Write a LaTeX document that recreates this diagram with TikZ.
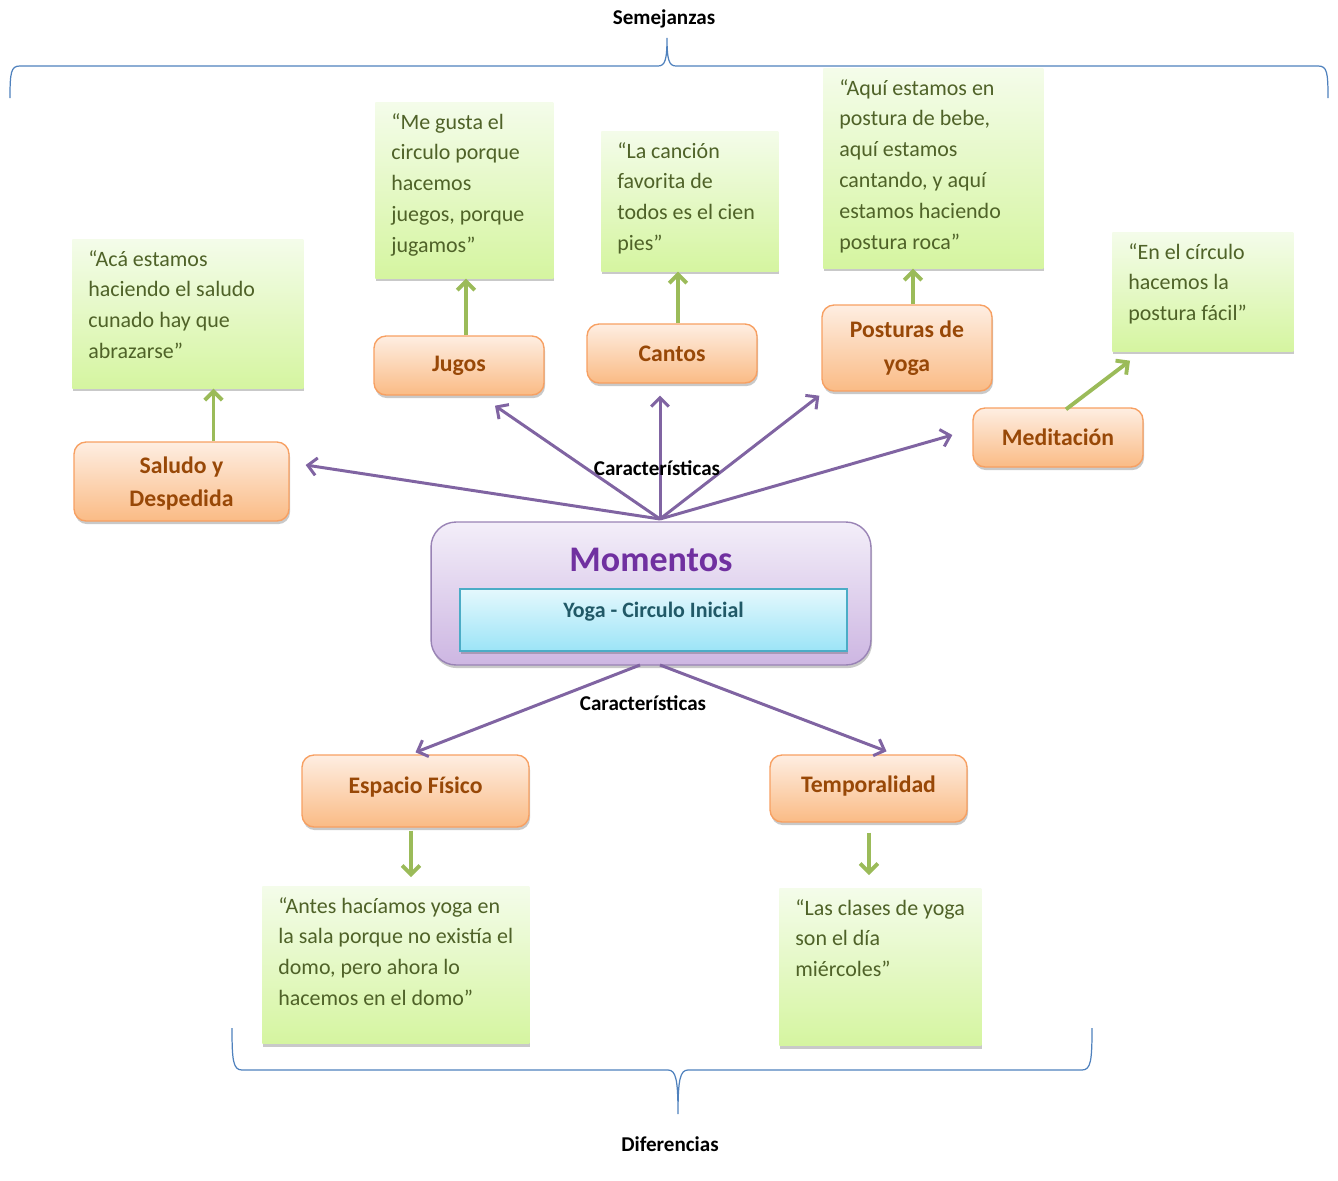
\documentclass[tikz,border=0pt]{standalone}
\usepackage{fontspec}
\setmainfont{Carlito}
\usetikzlibrary{arrows.meta}
\usetikzlibrary{shadows}
\usetikzlibrary{positioning}

\definecolor{citaarriba}{HTML}{F4FCEA}
\definecolor{citaabajo}{HTML}{D5F5A0}
\definecolor{citatexto}{HTML}{4F6228}
\definecolor{temaarriba}{HTML}{FEEEE2}
\definecolor{temaabajo}{HTML}{FABB85}
\definecolor{temaborde}{HTML}{F7A062}
\definecolor{tematexto}{HTML}{984807}
\definecolor{morado}{HTML}{8064A2}
\definecolor{moradotexto}{HTML}{7030A0}
\definecolor{lilaarriba}{HTML}{F3EEF9}
\definecolor{lilaabajo}{HTML}{CDB6E2}
\definecolor{cianarriba}{HTML}{E4F8FD}
\definecolor{cianabajo}{HTML}{9CE4F7}
\definecolor{cianborde}{HTML}{4BACC6}
\definecolor{ciantexto}{HTML}{215967}
\definecolor{verde}{HTML}{9BBB59}
\definecolor{azul}{HTML}{4F81BD}

\newcommand{\cita}[3]{\parbox[c][#2][t]{#1}{\begin{tabular}[t]{@{}l@{}}#3\end{tabular}}}

\tikzset{
  sombra/.style={drop shadow={shadow xshift=0.6pt, shadow yshift=-1.8pt, opacity=0.3, fill=black!70}},
  quote/.style={anchor=north west, inner xsep=0.32cm, inner ysep=0.1cm, top color=citaarriba, bottom color=citaabajo, sombra, text=citatexto, font=\fontsize{12.5}{17.6}\selectfont},
  tema/.style={rounded corners=0.24cm, draw=temaborde, line width=0.8pt, top color=temaarriba, bottom color=temaabajo, sombra, text=tematexto, font=\fontsize{13.5}{19}\selectfont\bfseries, align=center, minimum width=3.4cm, minimum height=1.18cm},
  flecha/.style={draw=morado, line width=1.7pt, -{Straight Barb[length=5pt, width=10pt]}},
  flechaverde/.style={draw=verde, line width=2.2pt, -{Straight Barb[length=5pt, width=10pt]}},
  llave/.style={draw=azul, line width=0.7pt},
  rotulo/.style={font=\fontsize{12}{14}\selectfont\bfseries}
}

\begin{document}
\begin{tikzpicture}[x=0.02cm, y=-0.02cm]
  \useasboundingbox (0,0) rectangle (1338,1180);

  \draw[llave] (10,98) .. controls (10,72) and (11,66) .. (20,66) -- (658,66) .. controls (665,66) and (667,60) .. (667,38) .. controls (667,60) and (669,66) .. (676,66) -- (1318,66) .. controls (1327,66) and (1328,72) .. (1328,98);
  \draw[llave] (232,1028) .. controls (232,1060) and (233,1070) .. (242,1070) -- (668,1070) .. controls (676,1070) and (678,1080) .. (678,1114) .. controls (678,1080) and (680,1070) .. (688,1070) -- (1082,1070) .. controls (1091,1070) and (1092,1060) .. (1092,1028);
  \node[rotulo] (semejanzas) at (664,19) {Semejanzas};
  \node[rotulo] (diferencias) at (670,1144) {Diferencias};

  \node[quote] (q1) at (72,239) {\cita{3.98cm}{2.78cm}{“Acá estamos\\haciendo el saludo\\cunado hay que\\abrazarse”}};
  \node[quote] (q2) at (375,102) {\cita{2.92cm}{3.32cm}{“Me gusta el\\circulo porque\\hacemos\\juegos, porque\\jugamos”}};
  \node[quote] (q3) at (601,131) {\cita{2.9cm}{2.6cm}{“La canción\\favorita de\\todos es el cien\\pies”}};
  \node[quote] (q4) at (823,68) {\cita{3.76cm}{3.8cm}{“Aquí estamos en\\postura de bebe,\\aquí estamos\\cantando, y aquí\\estamos haciendo\\postura roca”}};
  \node[quote] (q5) at (1112,232) {\cita{2.98cm}{2.18cm}{“En el círculo\\hacemos la\\postura fácil”}};
  \node[quote] (q6) at (262,886) {\cita{4.7cm}{2.94cm}{“Antes hacíamos yoga en\\la sala porque no existía el\\domo, pero ahora lo\\hacemos en el domo”}};
  \node[quote] (q7) at (779,888) {\cita{3.4cm}{2.94cm}{“Las clases de yoga\\son el día\\miércoles”}};

  \node[tema, minimum width=4.3cm, minimum height=1.58cm, text depth=-0.1cm] (saludo) at (181.5,481.5) {Saludo y\\Despedida};
  \node[tema] (jugos) at (459,365.5) {Jugos};
  \node[tema] (cantos) at (672,353.5) {Cantos};
  \node[tema, minimum height=1.72cm] (posturas) at (907,348) {Posturas de\\yoga};
  \node[tema] (meditacion) at (1058,437.5) {Meditación};
  \node[tema, minimum width=4.54cm, minimum height=1.44cm, text depth=0.25cm] (espacio) at (415.5,791) {Espacio Físico};
  \node[tema, minimum width=3.94cm, minimum height=1.34cm, text depth=0.18cm] (temporalidad) at (868.5,788.5) {Temporalidad};

  \node[rounded corners=0.5cm, draw=morado!80, line width=0.8pt, top color=lilaarriba, bottom color=lilaabajo, sombra, minimum width=8.8cm, minimum height=2.86cm] (momentos) at (651,593.5) {};
  \node[text=moradotexto, font=\fontsize{20.5}{24}\selectfont\bfseries] (titulo) at (651,560) {Momentos};
  \node[draw=cianborde, line width=0.8pt, top color=cianarriba, bottom color=cianabajo, sombra, inner ysep=0.2cm, text=ciantexto, font=\fontsize{12.5}{15}\selectfont\bfseries] (yoga) at (653.5,620) {\parbox[c][0.84cm][t]{7.5cm}{\centering\vspace{2pt}Yoga - Circulo Inicial}};

  \coordinate (arriba) at (660,519);
  \coordinate (abajoizq) at (640,665);
  \coordinate (abajoder) at (660,665);
  \draw[flecha] (arriba) -- ([shift={(16,-16.5)}]saludo.east);
  \draw[flecha] (arriba) -- ([shift={(36,10)}]jugos.south);
  \draw[flecha] (arriba) -- ([shift={(-12,12)}]cantos.south);
  \draw[flecha] (arriba) -- ([shift={(-2,4)}]posturas.south west);
  \draw[flecha] (arriba) -- ([shift={(-20,-2.5)}]meditacion.west);
  \draw[flecha] (abajoizq) -- ([shift={(0,-2)}]espacio.north);
  \draw[flecha] (abajoder) -- ([shift={(18,-3)}]temporalidad.north);
  \node[rotulo] (carac1) at (657,468) {Características};
  \node[rotulo] (carac2) at (643,703) {Características};

  \draw[flechaverde] ([shift={(32,0)}]saludo.north) -- ([shift={(32,0)}]saludo.north |- q1.south);
  \draw[flechaverde] ([shift={(7,0)}]jugos.north) -- ([shift={(7,0)}]jugos.north |- q2.south);
  \draw[flechaverde] ([shift={(6,0)}]cantos.north) -- ([shift={(6,0)}]cantos.north |- q3.south);
  \draw[flechaverde] ([shift={(6,0)}]posturas.north) -- ([shift={(6,0)}]posturas.north |- q4.south);
  \draw[flechaverde] ([shift={(8,2)}]meditacion.north) -- ([shift={(18,9)}]q5.south west);
  \draw[flechaverde, shorten <=0.06cm, shorten >=0.18cm] ([shift={(-4.5,0)}]espacio.south) -- ([shift={(-4.5,0)}]espacio.south |- q6.north);
  \draw[flechaverde, shorten <=0.2cm, shorten >=0.26cm] ([shift={(0.5,0)}]temporalidad.south) -- ([shift={(0.5,0)}]temporalidad.south |- q7.north);
\end{tikzpicture}
\end{document}
